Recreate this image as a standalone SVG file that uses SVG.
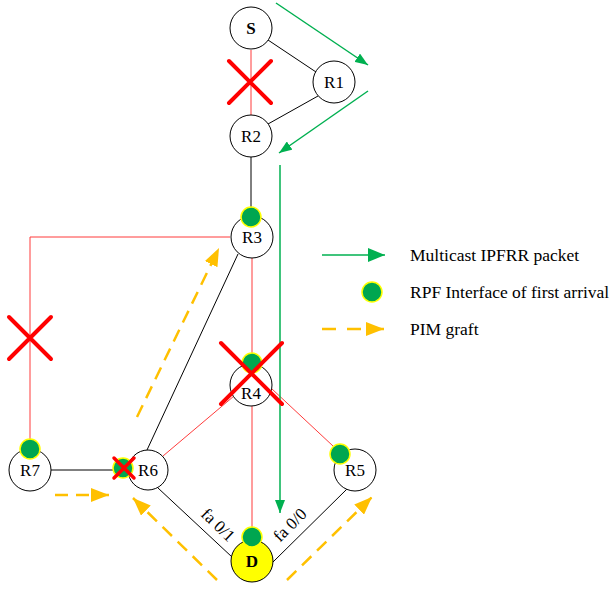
<svg xmlns="http://www.w3.org/2000/svg" width="611" height="590" viewBox="0 0 611 590">
  <style>
    .node { fill: #ffffff; stroke: #000000; stroke-width: 1; }
    .dst { fill: #ffff00; stroke: #000000; stroke-width: 1; }
    .lbl { font-family: "Liberation Serif", "Times New Roman", serif; font-size: 17px; fill: #000000; text-anchor: middle; dominant-baseline: central; }
    .bold { font-weight: bold; }
    .link { stroke: #000000; stroke-width: 1; fill: none; }
    .fail { stroke: #ff3b3b; stroke-width: 1; fill: none; }
    .pkt { stroke: #00b050; stroke-width: 1.5; fill: none; marker-end: url(#greenHead); }
    .graft { stroke: #ffc000; stroke-width: 2.5; fill: none; stroke-dasharray: 13 8; marker-end: url(#yellowHead); }
    .cross { stroke: #ff0000; stroke-width: 4; stroke-linecap: round; }
    .rpf { fill: #00a650; stroke: #ffff00; stroke-width: 1.5; }
    .legend { font-family: "Liberation Serif", "Times New Roman", serif; font-size: 17.5px; fill: #000000; }
    .iface { font-family: "Liberation Serif", "Times New Roman", serif; font-size: 17px; fill: #000000; text-anchor: middle; dominant-baseline: central; }
  </style>
  <defs>
    <marker id="greenHead" viewBox="0 0 10 10" refX="10" refY="5" markerWidth="13" markerHeight="10" markerUnits="userSpaceOnUse" orient="auto" preserveAspectRatio="none">
      <path d="M0,0 L10,5 L0,10 z" fill="#00b050"/>
    </marker>
    <marker id="greenHeadBig" viewBox="0 0 10 10" refX="10" refY="5" markerWidth="17" markerHeight="14" markerUnits="userSpaceOnUse" orient="auto" preserveAspectRatio="none">
      <path d="M0,0 L10,5 L0,10 z" fill="#00b050"/>
    </marker>
    <marker id="yellowHead" viewBox="0 0 10 10" refX="10" refY="5" markerWidth="18" markerHeight="14" markerUnits="userSpaceOnUse" orient="auto" preserveAspectRatio="none">
      <path d="M0,0 L10,5 L0,10 z" fill="#ffc000"/>
    </marker>
  </defs>

  <!-- links between routers -->
  <g id="connectors">
    <line class="link" x1="268" y1="40" x2="316" y2="72"/>
    <line class="link" x1="318" y1="96" x2="268" y2="124"/>
    <line class="fail" x1="251" y1="50" x2="251" y2="115"/>
    <line class="link" x1="251" y1="157" x2="251" y2="207"/>
    <polyline class="fail" points="230,237 30,237 30,439"/>
    <line class="link" x1="238" y1="254" x2="147" y2="450"/>
    <line class="fail" x1="252" y1="258" x2="252" y2="353"/>
    <line class="fail" x1="163" y1="456" x2="234" y2="396"/>
    <line class="fail" x1="272" y1="389" x2="333" y2="446"/>
    <line class="fail" x1="252" y1="406" x2="252" y2="527"/>
    <line class="link" x1="51" y1="470" x2="113" y2="470"/>
    <line class="link" x1="158" y1="488" x2="232" y2="557"/>
    <line class="link" x1="273" y1="562" x2="347" y2="489"/>

    <!-- multicast IPFRR packet path -->
    <line class="pkt" x1="276" y1="3" x2="368" y2="65"/>
    <line class="pkt" x1="368" y1="91" x2="279" y2="153"/>
    <line class="pkt" x1="280" y1="165" x2="280" y2="513"/>

    <!-- PIM graft messages -->
    <line class="graft" x1="137" y1="417" x2="219" y2="248"/>
    <line class="graft" x1="55" y1="495" x2="109" y2="495"/>
    <line class="graft" x1="217" y1="580" x2="133" y2="498"/>
    <line class="graft" x1="287" y1="580" x2="372" y2="497"/>
  </g>

  <g id="S">
    <circle class="node" cx="251" cy="28" r="21"/>
    <text class="lbl bold" x="251" y="28">S</text>
  </g>
  <g id="R1">
    <circle class="node" cx="334" cy="82" r="21"/>
    <text class="lbl" x="334" y="82">R1</text>
  </g>
  <g id="R2">
    <circle class="node" cx="251" cy="136" r="21"/>
    <text class="lbl" x="251" y="136">R2</text>
  </g>
  <g id="R3">
    <circle class="node" cx="252" cy="237" r="21"/>
    <text class="lbl" x="252" y="237">R3</text>
    <circle class="rpf" cx="251" cy="217" r="10"/>
  </g>
  <g id="R4">
    <circle class="node" cx="251" cy="385" r="21"/>
    <text class="lbl" x="251" y="393">R4</text>
    <circle class="rpf" cx="252" cy="363" r="10"/>
  </g>
  <g id="R5">
    <circle class="node" cx="355" cy="470" r="21"/>
    <text class="lbl" x="355" y="470">R5</text>
    <circle class="rpf" cx="340" cy="454" r="10"/>
  </g>
  <g id="R6">
    <circle class="node" cx="148" cy="470" r="20"/>
    <text class="lbl" x="148" y="470">R6</text>
    <circle class="rpf" cx="123" cy="468" r="10"/>
  </g>
  <g id="R7">
    <circle class="node" cx="30" cy="470" r="21"/>
    <text class="lbl" x="30" y="470">R7</text>
    <circle class="rpf" cx="30" cy="449" r="10"/>
  </g>
  <g id="D">
    <circle class="dst" cx="252" cy="561" r="21"/>
    <text class="lbl bold" x="252" y="561">D</text>
    <circle class="rpf" cx="252" cy="537" r="10"/>
  </g>

  <!-- interface names -->
  <g id="interfaces">
    <text class="iface" transform="translate(218,525) rotate(44)">fa 0/1</text>
    <text class="iface" transform="translate(290,525) rotate(-45)">fa 0/0</text>
  </g>

  <!-- failure marks -->
  <g id="failures">
    <path class="cross" d="M229,61 L271,103 M271,61 L229,103"/>
    <path class="cross" d="M9,317 L51,359 M51,317 L9,359"/>
    <path class="cross" d="M221,343 L282,404 M282,343 L221,404"/>
    <path class="cross" d="M114,458 L134,478 M134,458 L114,478" style="stroke-width:3.5"/>
  </g>

  <!-- legend -->
  <g id="legend">
    <line class="pkt" x1="322" y1="255" x2="385" y2="255" style="marker-end:url(#greenHeadBig)"/>
    <text class="legend" x="410" y="261">Multicast IPFRR packet</text>
    <circle class="rpf" cx="372" cy="292" r="10"/>
    <text class="legend" x="410" y="298">RPF Interface of first arrival</text>
    <line class="graft" x1="322" y1="329" x2="384" y2="329" style="stroke-dasharray:14 11"/>
    <text class="legend" x="410" y="335">PIM graft</text>
  </g>
</svg>
